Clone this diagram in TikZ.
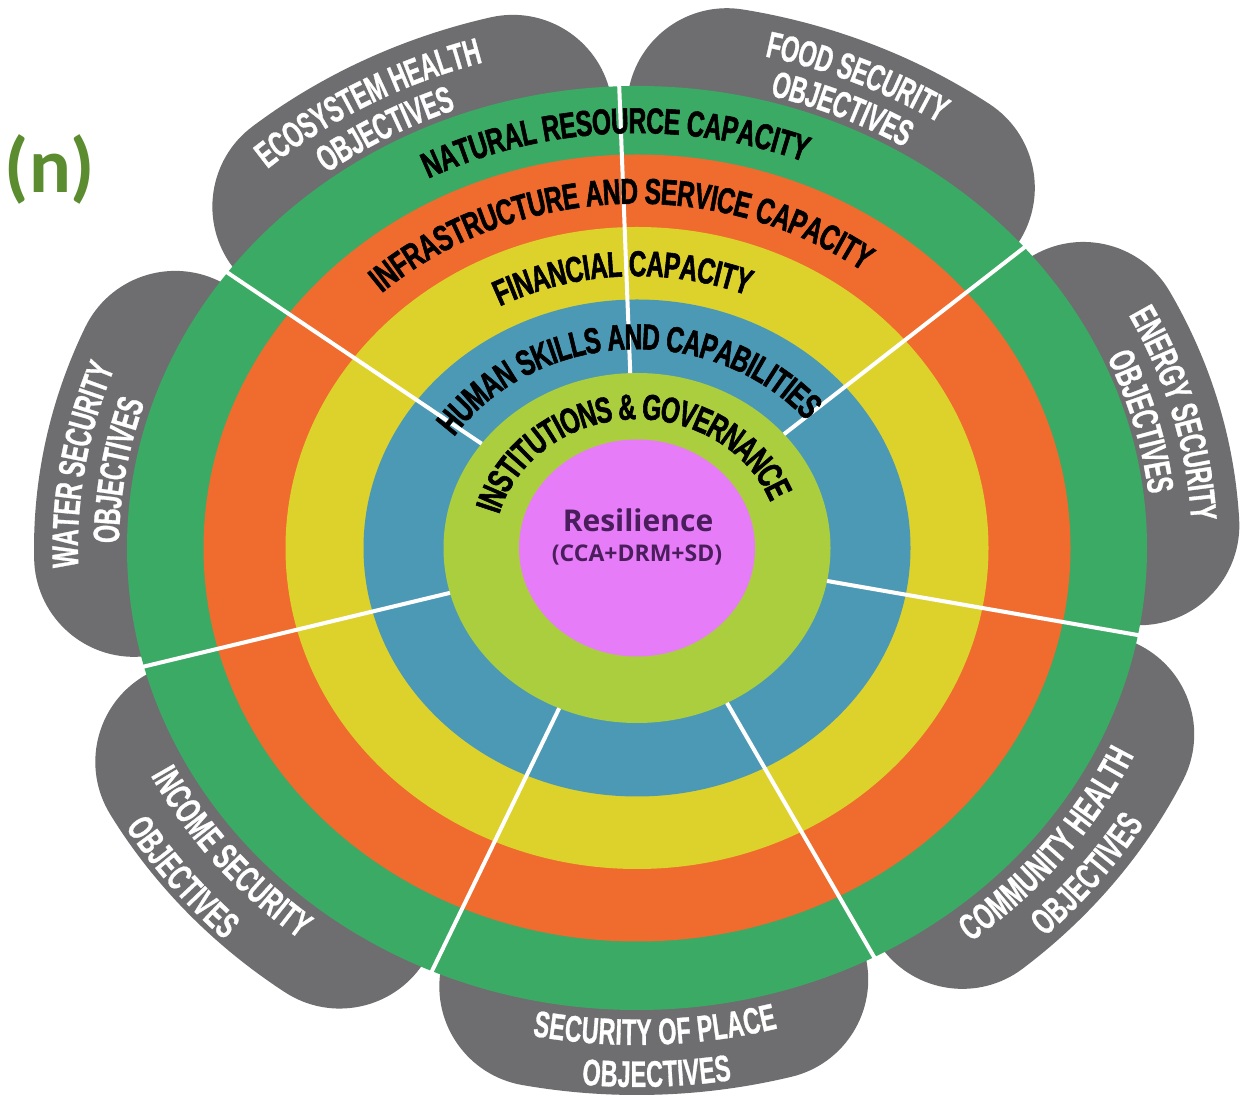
\documentclass[tikz,border=0pt]{standalone}
\usepackage{fontspec}
\setmainfont{Liberation Sans}
\newfontfamily\bandfont[FakeStretch=0.68,FakeBold=1.6]{Liberation Sans}
\newfontfamily\petalfont[FakeStretch=0.63,FakeBold=0.8]{Liberation Sans}
\newfontfamily\resfont{Open Sans}
\newfontfamily\tagfont{Carlito}
\usetikzlibrary{decorations.text}
\definecolor{cgreen}{HTML}{3BAA64}
\definecolor{corange}{HTML}{F06B2E}
\definecolor{cyellow}{HTML}{DDD22B}
\definecolor{cblue}{HTML}{4C99B6}
\definecolor{clgreen}{HTML}{ABCE3E}
\definecolor{cpink}{HTML}{E67CF7}
\definecolor{cgray}{HTML}{6E6E70}
\definecolor{ctag}{HTML}{5B8C2F}
\definecolor{cres}{HTML}{4A1D5C}
\newcommand\bandfmt{\bandfont\bfseries\fontsize{36pt}{40pt}\selectfont}
\newcommand\petalfmt{\petalfont\bfseries\fontsize{37pt}{40pt}\selectfont}
\tikzset{
  petal/.style={draw=cgray, line width=200pt, line cap=round},
  sepline/.style={draw=white, line width=4pt},
  bandlabel/.style={decorate, decoration={text along path, text align=center, raise=-13pt, text={|\bandfmt|#1}}},
  petallabel/.style={decorate, decoration={text along path, text align=center, raise=-13pt, text color=white, text={|\petalfmt|#1}}}
}
\begin{document}
\begin{tikzpicture}[x=1pt,y=1pt]
\useasboundingbox (0,0) rectangle (1255,1103);
\fill[white] (0,0) rectangle (1255,1103);
\coordinate (C) at (637,555);
% petals
\foreach \k in {0,...,6}{
  \pgfmathsetmacro\ta{92-51.4286*\k}
  \pgfmathsetmacro\tb{92-51.4286*(\k+1)}
  \pgfmathsetmacro\da{1.08/sqrt((5.03*sin(\ta))^2+(4.47*cos(\ta))^2)*180/pi}
  \pgfmathsetmacro\db{1.08/sqrt((5.03*sin(\tb))^2+(4.47*cos(\tb))^2)*180/pi}
  \pgfmathsetmacro\a{\ta-\da}
  \pgfmathsetmacro\b{\tb+\db}
  \draw[petal] ([shift={(\a:503pt and 447pt)}]C) arc[start angle=\a, end angle=\b, x radius=503pt, y radius=447pt];
}
% rings
\fill[cgreen]  (C) ellipse[x radius=510pt, y radius=462pt];
\fill[corange] (C) ellipse[x radius=433.5pt, y radius=393.5pt];
\fill[cyellow] (C) ellipse[x radius=351.5pt, y radius=321pt];
\fill[cblue]   (C) ellipse[x radius=273.5pt, y radius=248.5pt];
\fill[clgreen] (C) ellipse[x radius=193.5pt, y radius=175pt];
\fill[cpink]   (C) ellipse[x radius=118pt, y radius=108.5pt];
% separating lines
\foreach \k in {0,...,6}{
  \pgfmathsetmacro\a{92-51.4286*\k}
  \coordinate (Li\k) at ([shift={(\a:193.5pt and 175pt)}]C);
  \coordinate (Lo\k) at ([shift={(\a:545pt and 494pt)}]C);
  \draw[sepline] (Li\k) -- (Lo\k);
}
% band labels
\path[bandlabel={NATURAL RESOURCE CAPACITY}] ([shift={(160:471.75pt and 427.75pt)}]C) arc[start angle=160, end angle=26, x radius=471.75pt, y radius=427.75pt];
\path[bandlabel={INFRASTRUCTURE AND SERVICE CAPACITY}] ([shift={(168:392.5pt and 357.25pt)}]C) arc[start angle=168, end angle=18, x radius=392.5pt, y radius=357.25pt];
\path[bandlabel={FINANCIAL CAPACITY}] ([shift={(165:312.5pt and 284.75pt)}]C) arc[start angle=165, end angle=21, x radius=312.5pt, y radius=284.75pt];
\path[bandlabel={HUMAN SKILLS AND CAPABILITIES}] ([shift={(178:233.5pt and 211.75pt)}]C) arc[start angle=178, end angle=8, x radius=233.5pt, y radius=211.75pt];
\path[bandlabel={INSTITUTIONS {\&} GOVERNANCE}] ([shift={(185:155.75pt and 141.75pt)}]C) arc[start angle=185, end angle=1, x radius=155.75pt, y radius=141.75pt];
% petal labels, clockwise (tops outward)
\path[petallabel={FOOD SECURITY}] ([shift={(106.29:572pt and 518pt)}]C) arc[start angle=106.29, end angle=26.29, x radius=572pt, y radius=518pt];
\path[petallabel={OBJECTIVES}] ([shift={(106.29:531pt and 481pt)}]C) arc[start angle=106.29, end angle=26.29, x radius=531pt, y radius=481pt];
\path[petallabel={ENERGY SECURITY}] ([shift={(54.86:568pt and 515pt)}]C) arc[start angle=54.86, end angle=-25.14, x radius=568pt, y radius=515pt];
\path[petallabel={OBJECTIVES}] ([shift={(54.86:528pt and 478pt)}]C) arc[start angle=54.86, end angle=-25.14, x radius=528pt, y radius=478pt];
\path[petallabel={WATER SECURITY}] ([shift={(211:572pt and 518pt)}]C) arc[start angle=211, end angle=131, x radius=572pt, y radius=518pt];
\path[petallabel={OBJECTIVES}] ([shift={(211:531pt and 481pt)}]C) arc[start angle=211, end angle=131, x radius=531pt, y radius=481pt];
\path[petallabel={ECOSYSTEM HEALTH}] ([shift={(159.5:572pt and 518pt)}]C) arc[start angle=159.5, end angle=79.5, x radius=572pt, y radius=518pt];
\path[petallabel={OBJECTIVES}] ([shift={(159.5:531pt and 481pt)}]C) arc[start angle=159.5, end angle=79.5, x radius=531pt, y radius=481pt];
% petal labels, counterclockwise (tops inward)
\path[petallabel={COMMUNITY HEALTH}] ([shift={(-77.5:534pt and 484pt)}]C) arc[start angle=-77.5, end angle=2.5, x radius=534pt, y radius=484pt];
\path[petallabel={OBJECTIVES}] ([shift={(-77.5:578pt and 524pt)}]C) arc[start angle=-77.5, end angle=2.5, x radius=578pt, y radius=524pt];
\path[petallabel={SECURITY OF PLACE}] ([shift={(-128:534pt and 484pt)}]C) arc[start angle=-128, end angle=-48, x radius=534pt, y radius=484pt];
\path[petallabel={OBJECTIVES}] ([shift={(-128:580pt and 526pt)}]C) arc[start angle=-128, end angle=-48, x radius=580pt, y radius=526pt];
\path[petallabel={INCOME SECURITY}] ([shift={(-181.5:534pt and 484pt)}]C) arc[start angle=-181.5, end angle=-101.5, x radius=534pt, y radius=484pt];
\path[petallabel={OBJECTIVES}] ([shift={(-182.5:584pt and 529pt)}]C) arc[start angle=-182.5, end angle=-102.5, x radius=584pt, y radius=529pt];
% centre
\node[text=cres, font=\resfont\bfseries\fontsize{30pt}{34pt}\selectfont] (res) at (638,583) {Resilience};
\node[text=cres, font=\resfont\bfseries\fontsize{23pt}{26pt}\selectfont] (sub) at (637,548) {(CCA+DRM+SD)};
% tag
\node[text=ctag, font=\tagfont\bfseries\fontsize{78pt}{84pt}\selectfont] (tag) at (50,934) {(n)};
\end{tikzpicture}
\end{document}
